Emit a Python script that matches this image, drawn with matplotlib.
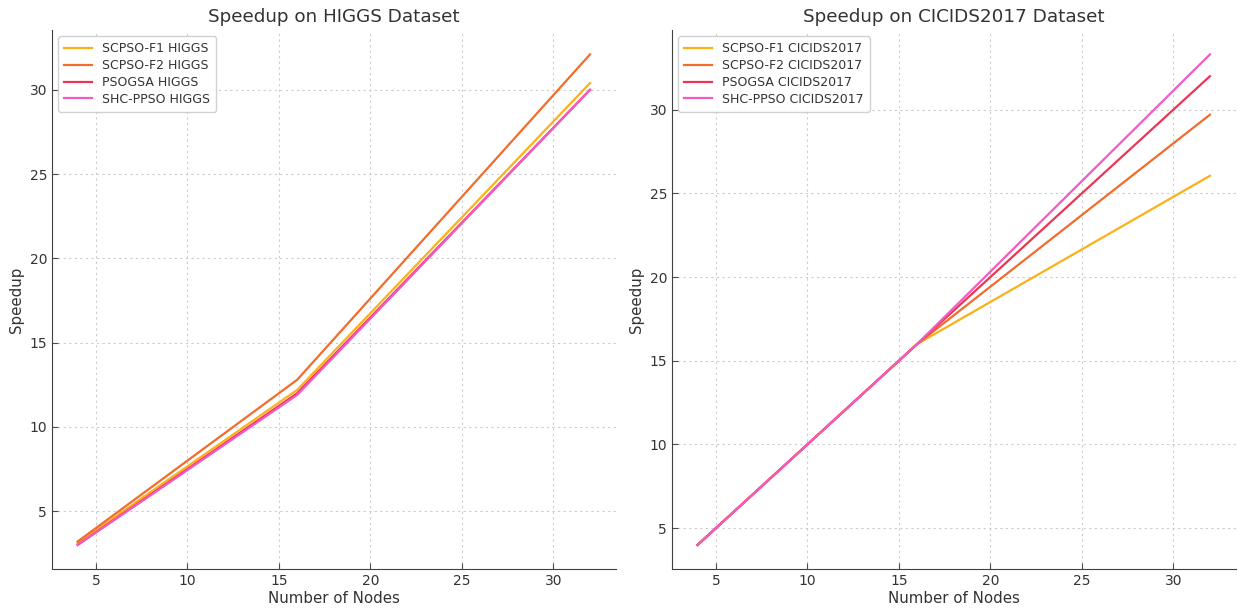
import matplotlib; matplotlib.use("Agg")
import matplotlib.pyplot as plt

nodes = [4, 8, 16, 32]
methods = ["SCPSO-F1", "SCPSO-F2", "PSOGSA", "SHC-PPSO"]
colors = ["#FBB117", "#F26C2C", "#EC3555", "#F25BC2"]

higgs = {
    "SCPSO-F1": [3.1, 6.15, 12.2, 30.4],
    "SCPSO-F2": [3.2, 6.4, 12.8, 32.1],
    "PSOGSA":   [3.0, 6.0, 12.0, 30.0],
    "SHC-PPSO": [3.0, 5.95, 11.9, 30.0],
}
cicids = {
    "SCPSO-F1": [4.0, 8.0, 16.0, 26.05],
    "SCPSO-F2": [4.0, 8.0, 16.0, 29.7],
    "PSOGSA":   [4.0, 8.0, 16.0, 32.0],
    "SHC-PPSO": [4.0, 8.0, 16.0, 33.3],
}

plt.rcParams.update({"font.family": "DejaVu Sans", "xtick.direction": "in",
                     "ytick.direction": "in", "text.color": "#333333",
                     "axes.labelcolor": "#333333", "xtick.labelcolor": "#333333",
                     "ytick.labelcolor": "#333333"})
fig, axes = plt.subplots(1, 2, figsize=(12.38, 6.11), dpi=100)

for ax, data, name in zip(axes, (higgs, cicids), ("HIGGS", "CICIDS2017")):
    for m, c in zip(methods, colors):
        ax.plot(nodes, data[m], color=c, lw=1.6, label=f"{m} {name}")
    ax.set_title(f"Speedup on {name} Dataset", fontsize=13.2)
    ax.set_xlabel("Number of Nodes", fontsize=10.8, labelpad=2)
    ax.set_ylabel("Speedup", fontsize=10.8)
    ax.tick_params(labelsize=10, color="0.3", length=4)
    ax.grid(True, ls=(0, (2, 3)), color="0.8", lw=0.8)
    for s in ("top", "right"):
        ax.spines[s].set_visible(False)
    for s in ("left", "bottom"):
        ax.spines[s].set_color("0.25")
    ax.legend(loc="upper left", fontsize=9, frameon=True, handlelength=2.2,
              borderpad=0.5, labelspacing=0.3, framealpha=0.9, edgecolor="0.8")

fig.subplots_adjust(left=0.042, right=0.998, top=0.951, bottom=0.068, wspace=0.1)
fig.savefig("out.png", dpi=100)
